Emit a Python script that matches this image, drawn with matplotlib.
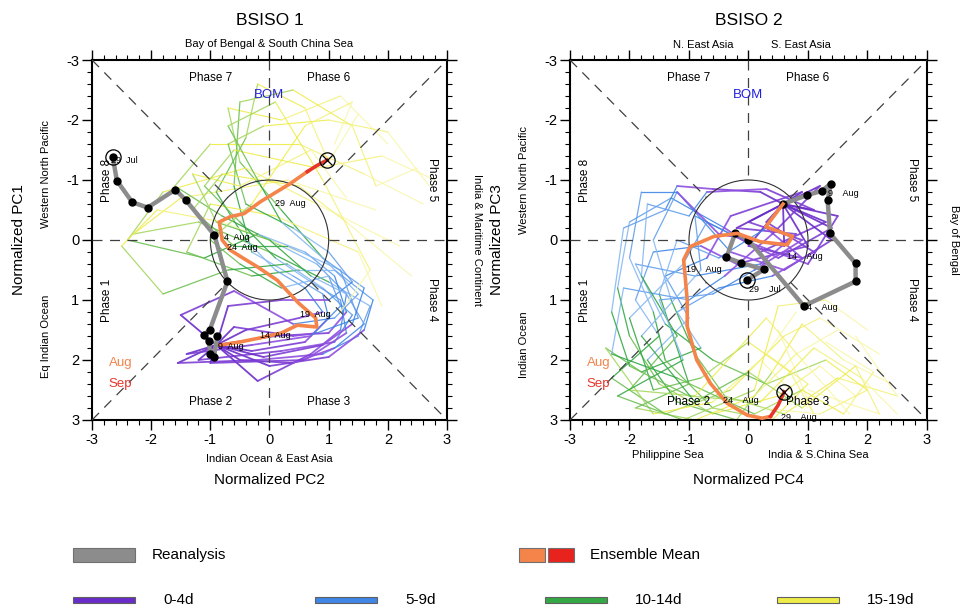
import numpy as np
import matplotlib
matplotlib.use("Agg")
import matplotlib.pyplot as plt
from matplotlib.patches import Circle, Rectangle
from matplotlib.colors import to_rgb

plt.rcParams['font.family'] = ['Liberation Sans', 'DejaVu Sans']
plt.rcParams['axes.unicode_minus'] = False

# ---------------- data ----------------
# BSISO1 : x = PC2, y = PC1 ; BSISO2 : x = PC4, y = PC3  (y axis reversed)
rean1_x = [-2.65, -2.58, -2.32, -2.06, -1.59, -1.41, -0.93, -0.71, -1.01, -1.11, -1.03, -1.00, -0.94, -0.88]
rean1_y = [-1.39, -0.99, -0.63, -0.54, -0.84, -0.66, -0.08, 0.69, 1.50, 1.58, 1.68, 1.90, 1.95, 1.60]

rean2_x = [-0.03, 0.26, -0.13, -0.37, -0.22, 0.00, 0.93, 1.80, 1.80, 1.37, 1.33, 1.38, 1.24, 0.99, 0.58]
rean2_y = [0.67, 0.49, 0.38, 0.29, -0.12, 0.00, 1.10, 0.69, 0.39, -0.11, -0.66, -0.94, -0.82, -0.75, -0.60]

mean1_aug_x = [-0.83, -0.50, -0.15, 0.20, 0.47, 0.80, 0.78, 0.49, 0.30, 0.13, -0.20, -0.45, -0.66, -0.80, -0.85, -0.66, -0.43, -0.15, 0.35, 0.64]
mean1_aug_y = [1.75, 1.70, 1.63, 1.55, 1.42, 1.45, 1.30, 1.05, 0.85, 0.67, 0.45, 0.30, 0.17, 0.00, -0.30, -0.39, -0.44, -0.64, -0.94, -1.14]
mean1_sep_x = [0.64, 0.80, 0.97]
mean1_sep_y = [-1.14, -1.24, -1.33]

mean2_aug_x = [0.58, 0.29, 0.74, 0.65, 0.20, -0.19, -0.58, -0.98, -1.09, -1.03, -1.03, -0.87, -0.64, -0.36, -0.02, 0.23, 0.37]
mean2_aug_y = [-0.60, -0.22, -0.06, 0.08, 0.03, -0.11, -0.06, 0.11, 0.33, 1.00, 1.44, 2.00, 2.39, 2.72, 2.92, 2.97, 2.94]
mean2_sep_x = [0.37, 0.50, 0.60]
mean2_sep_y = [2.94, 2.75, 2.53]

# ensemble members: 13 points each; 0-3 -> 0-4d, 3-6 -> 5-9d, 6-9 -> 10-14d, 9-12 -> 15-19d
members1 = [
    [(-0.9, 1.75), (-1.5, 1.25), (-0.6, 0.85), (0.4, 1.4), (1.1, 1.3), (1.5, 0.9), (0.9, 0.3), (0.2, -0.5), (-0.5, -1.3), (-0.7, -2.2), (0.2, -2.0), (1.2, -2.4), (2.0, -1.6)],
    [(-0.9, 1.75), (-1.55, 2.05), (-0.2, 2.0), (0.9, 1.9), (1.5, 1.6), (1.7, 1.1), (1.0, 0.7), (0.0, 0.2), (-1.2, -0.3), (-2.3, -0.1), (-1.5, -0.7), (0.3, -1.0), (1.8, -0.5)],
    [(-0.9, 1.75), (-0.2, 2.35), (0.7, 1.9), (1.2, 1.5), (1.3, 0.9), (0.8, 0.4), (0.2, 0.1), (-0.8, -0.4), (-1.6, -0.9), (-1.0, -1.6), (0.5, -1.6), (1.6, -1.1), (2.6, -0.6)],
    [(-0.9, 1.75), (0.1, 1.6), (1.0, 1.55), (1.3, 1.2), (1.1, 0.6), (0.6, 0.2), (-0.2, -0.1), (-1.1, 0.3), (-2.4, 0.0), (-1.8, -0.8), (-0.4, -1.2), (0.8, -0.6), (2.2, 0.1)],
    [(-0.9, 1.75), (-0.3, 1.85), (0.6, 1.7), (1.0, 1.3), (0.9, 0.9), (0.4, 0.6), (-0.3, 0.2), (-0.6, -0.9), (-0.5, -2.3), (0.4, -2.5), (1.4, -1.9), (1.8, -0.9), (2.5, -1.2)],
    [(-0.9, 1.75), (0.0, 2.1), (1.0, 1.95), (1.6, 1.5), (1.75, 1.0), (1.1, 0.5), (0.5, 0.5), (-0.3, 0.6), (-1.4, 0.2), (-1.0, -0.6), (0.1, -0.4), (1.5, 0.2), (1.9, 1.1)],
    [(-0.9, 1.75), (-0.4, 1.5), (0.5, 1.3), (0.9, 1.2), (0.6, 0.8), (0.1, 0.5), (-0.4, 0.0), (-0.9, -0.8), (-0.4, -1.7), (-0.2, -2.6), (0.6, -2.2), (1.0, -1.3), (1.5, -2.1)],
    [(-0.9, 1.75), (-1.2, 2.0), (0.2, 1.85), (1.1, 1.7), (1.4, 1.25), (0.9, 0.8), (0.3, 0.4), (-0.7, 0.5), (-1.8, 0.9), (-2.5, 0.1), (-1.9, -0.5), (-0.8, -0.3), (0.5, 0.2)],
    [(-0.9, 1.75), (-0.7, 1.1), (0.2, 1.0), (1.0, 1.0), (1.4, 0.7), (1.0, 0.2), (0.4, -0.2), (-0.4, -0.6), (-0.7, -1.6), (-0.1, -1.9), (1.0, -2.0), (2.0, -1.8), (2.7, -0.9)],
    [(-0.9, 1.75), (-0.5, 2.0), (0.4, 2.05), (1.1, 1.8), (1.6, 1.4), (1.3, 0.9), (0.7, 0.6), (0.0, 0.0), (-0.9, -0.3), (-1.3, -1.1), (-0.5, -0.9), (0.7, -1.5), (1.3, -0.7)],
    [(-0.9, 1.75), (-1.0, 2.05), (0.6, 2.0), (1.3, 1.55), (1.2, 1.0), (0.7, 0.7), (0.1, 0.3), (-0.5, -0.3), (-1.1, -0.9), (-0.6, -1.5), (0.8, -1.2), (1.9, -1.4), (2.8, -1.0)],
    [(-0.9, 1.75), (-0.6, 1.45), (0.4, 1.6), (0.8, 1.55), (1.5, 1.3), (1.2, 0.5), (0.3, 0.1), (-0.6, 0.1), (-1.3, -0.5), (-0.8, -1.1), (0.5, -0.9), (1.3, -0.3), (2.4, 0.6)],
    [(-0.9, 1.75), (-1.4, 1.9), (-0.3, 1.75), (0.7, 1.6), (1.2, 1.1), (1.0, 0.6), (0.2, 0.8), (-0.5, 0.4), (-1.0, 0.0), (-0.3, -0.6), (0.6, -1.9), (1.4, -2.3), (1.1, -1.6)],
    [(-0.9, 1.75), (-0.1, 1.95), (0.9, 1.75), (1.4, 1.4), (1.6, 0.8), (0.9, 0.3), (0.2, -0.3), (-0.2, -1.0), (-0.7, -1.9), (0.1, -2.3), (0.9, -1.0), (1.7, 0.5), (1.2, 1.2)],
]
members2 = [
    [(0.58, -0.6), (1.3, -0.3), (0.2, 0.2), (-0.4, -0.2), (-1.3, -0.7), (-2.0, -0.3), (-2.2, 0.8), (-2.0, 1.6), (-1.5, 2.4), (-0.6, 2.9), (0.5, 2.6), (1.2, 2.1), (1.8, 2.6)],
    [(0.58, -0.6), (1.0, 0.1), (-0.2, 0.4), (-0.8, 0.1), (-1.6, 0.2), (-1.9, 1.0), (-1.5, 1.6), (-2.3, 2.3), (-1.4, 2.9), (-0.3, 2.5), (0.6, 1.6), (1.2, 1.3), (2.2, 1.9)],
    [(0.58, -0.6), (1.4, 0.0), (0.6, 0.5), (-0.3, 0.2), (-1.2, -0.8), (-1.6, 0.0), (-1.3, 1.0), (-0.9, 1.9), (-0.4, 2.6), (0.6, 2.9), (1.5, 2.3), (2.5, 2.6), (1.8, 1.6)],
    [(0.58, -0.6), (0.9, -0.8), (-0.3, -0.4), (-0.7, 0.3), (-1.4, 0.6), (-1.0, 1.3), (-1.7, 2.0), (-1.2, 2.7), (-0.2, 3.0), (0.4, 2.2), (0.9, 1.4), (1.6, 2.0), (2.4, 2.4)],
    [(0.58, -0.6), (0.3, -0.3), (1.1, 0.2), (0.4, 0.6), (-0.5, 0.8), (-1.2, 1.2), (-0.8, 1.8), (-1.8, 2.2), (-2.4, 1.8), (-1.6, 2.9), (-0.6, 2.7), (0.2, 2.0), (1.0, 2.8)],
    [(0.58, -0.6), (-0.2, -0.2), (0.8, -0.1), (0.2, 0.4), (-0.9, 0.6), (-1.9, 0.4), (-1.4, 1.4), (-0.6, 2.0), (0.3, 2.4), (1.3, 2.0), (2.0, 2.5), (1.2, 2.9), (0.2, 2.8)],
    [(0.58, -0.6), (1.5, -0.4), (1.0, 0.4), (-0.1, 0.0), (-0.7, -0.3), (-1.1, 0.4), (-2.0, 1.3), (-1.6, 2.5), (-0.8, 2.3), (0.0, 1.7), (0.7, 2.2), (1.1, 2.9), (0.5, 1.5)],
    [(0.58, -0.6), (0.0, 0.1), (0.9, 0.3), (0.3, -0.2), (-0.5, 0.3), (-1.2, 0.0), (-1.5, 0.9), (-1.0, 2.4), (-1.9, 2.8), (-0.9, 3.0), (0.1, 2.6), (0.8, 1.9), (1.5, 1.5)],
    [(0.58, -0.6), (1.2, -0.9), (0.4, -0.1), (-0.4, 0.6), (-1.0, 1.0), (-2.1, 0.8), (-2.3, 1.9), (-1.2, 2.3), (0.1, 2.9), (0.9, 2.5), (1.6, 2.9), (2.1, 2.2), (1.3, 1.7)],
    [(0.58, -0.6), (0.6, 0.1), (-0.5, -0.1), (-1.2, -0.8), (-1.8, -0.8), (-2.0, 0.3), (-1.6, 1.2), (-1.4, 2.0), (-0.6, 2.8), (0.4, 3.0), (1.0, 2.4), (0.3, 1.9), (0.8, 1.2)],
    [(0.58, -0.6), (0.2, -0.8), (-0.6, -0.85), (-1.2, -0.9), (-1.4, -0.5), (-2.1, -0.2), (-2.3, 1.2), (-2.0, 2.1), (-1.0, 2.6), (0.2, 2.7), (1.1, 1.8), (1.9, 2.3), (2.5, 2.9)],
    [(0.58, -0.6), (1.1, -0.5), (0.3, -0.85), (-0.7, -0.8), (-1.0, -0.4), (-1.7, -0.6), (-1.8, 0.6), (-1.2, 1.6), (-2.0, 2.5), (-0.9, 2.6), (0.3, 1.3), (0.9, 2.0), (1.7, 2.9)],
    [(0.58, -0.6), (1.4, -0.2), (0.5, 0.3), (-0.3, -0.1), (-0.9, -0.4), (-0.8, 0.5), (-1.8, 1.6), (-0.9, 2.7), (0.0, 2.2), (0.9, 2.8), (1.8, 2.1), (2.2, 2.9), (1.0, 2.5)],
    [(0.58, -0.6), (0.0, -0.3), (0.9, 0.0), (0.1, 0.5), (-0.6, 0.9), (-1.5, 1.0), (-1.1, 2.0), (-2.2, 2.6), (-1.1, 3.0), (0.1, 2.5), (0.5, 1.1), (1.3, 1.0), (2.0, 1.5)],
]

lead_labels = ['0-4d', '5-9d', '10-14d', '15-19d']
lead_colors = [('#6a2cc8', '#8f4fe0'), ('#3f86e6', '#86b8f2'), ('#34a844', '#a6d860'), ('#eeec48', '#f9f6a8')]
lead_widths = [1.3, 0.9, 0.9, 0.8]

# text labels along the tracks
rean1_dates = [(-2.45, -1.33, '29  Jul'), (-0.55, -0.04, '4  Aug')]
mean1_dates = [(-0.65, 1.78, '9  Aug'), (0.1, 1.6, '14  Aug'), (0.78, 1.25, '19  Aug'), (-0.45, 0.12, '24  Aug'), (0.35, -0.6, '29  Aug')]
rean2_dates = [(0.28, 0.82, '29    Jul'), (1.25, 1.13, '4    Aug'), (1.6, -0.78, '9    Aug')]
mean2_dates = [(0.95, 0.28, '14    Aug'), (-0.75, 0.5, '19    Aug'), (-0.12, 2.68, '24    Aug'), (0.85, 2.96, '29    Aug')]


def mix(c1, c2, t):
    a, b = np.array(to_rgb(c1)), np.array(to_rgb(c2))
    return tuple(a + (b - a) * t)


def draw_panel(ax, members, rx, ry, max_, may_, msx, msy, rdates, mdates):
    ax.set_xlim(-3, 3)
    ax.set_ylim(3, -3)

    # ensemble members
    for m in members:
        for b in range(4):
            for k in range(3):
                i = b * 3 + k
                c = mix(lead_colors[b][0], lead_colors[b][1], k / 2.0)
                ax.plot([m[i][0], m[i + 1][0]], [m[i][1], m[i + 1][1]], color=c,
                        lw=lead_widths[b], alpha=0.9, zorder=2, solid_capstyle='round')

    # guide lines
    d = np.sqrt(0.5)
    gl = dict(color='#404040', lw=0.9, ls=(0, (8, 6)), zorder=3)
    ax.plot([-3, -1], [0, 0], **gl)
    ax.plot([1, 3], [0, 0], **gl)
    ax.plot([0, 0], [-3, -1], **gl)
    ax.plot([0, 0], [1, 3], **gl)
    ax.plot([-3, -d], [-3, -d], **gl)
    ax.plot([d, 3], [d, 3], **gl)
    ax.plot([-3, -d], [3, d], **gl)
    ax.plot([d, 3], [-d, -3], **gl)
    ax.add_patch(Circle((0, 0), 1, fill=False, ec='#303030', lw=0.8, zorder=3))

    # reanalysis
    ax.plot(rx, ry, color='#8c8c8c', lw=3.2, zorder=4, solid_joinstyle='round')
    ax.plot(rx, ry, 'o', color='black', ms=5, zorder=5)
    ax.plot(rx[0], ry[0], 'o', mfc='none', mec='black', ms=11, mew=0.9, zorder=5)

    # ensemble mean
    ax.plot(max_, may_, color='#f4844a', lw=2.6, zorder=6)
    ax.plot(msx, msy, color='#e8352a', lw=2.6, zorder=6)
    ax.plot(msx[-1], msy[-1], 'o', mfc='none', mec='black', ms=11, mew=0.9, zorder=7)
    ax.plot(msx[-1], msy[-1], 'x', color='black', ms=7, mew=0.9, zorder=7)

    for x, y, t in rdates + mdates:
        ax.text(x, y, t, fontsize=6.5, ha='center', va='center', zorder=8)

    # phase labels
    pk = dict(fontsize=8.5, ha='center', va='center', zorder=8)
    ax.text(-1.0, -2.7, 'Phase 7', **pk)
    ax.text(1.0, -2.7, 'Phase 6', **pk)
    ax.text(-1.0, 2.7, 'Phase 2', **pk)
    ax.text(1.0, 2.7, 'Phase 3', **pk)
    ax.text(-2.75, -1.0, 'Phase 8', rotation=90, **pk)
    ax.text(-2.75, 1.0, 'Phase 1', rotation=90, **pk)
    ax.text(2.75, -1.0, 'Phase 5', rotation=-90, **pk)
    ax.text(2.75, 1.0, 'Phase 4', rotation=-90, **pk)
    ax.text(0, -2.42, 'BOM', color='#2020e0', fontsize=9.5, ha='center', va='center', zorder=8)
    ax.text(-2.72, 2.05, 'Aug', color='#f4844a', fontsize=9.5, ha='left', va='center', zorder=8)
    ax.text(-2.72, 2.4, 'Sep', color='#e8352a', fontsize=9.5, ha='left', va='center', zorder=8)

    # axes style
    ax.set_xticks(np.arange(-3, 4))
    ax.set_yticks(np.arange(-3, 4))
    ax.set_xticks(np.arange(-3, 3.01, 0.2), minor=True)
    ax.set_yticks(np.arange(-3, 3.01, 0.2), minor=True)
    ax.tick_params(which='both', direction='out', top=True, right=True, width=1.0, labelsize=10.5, pad=2)
    ax.tick_params(which='major', length=7)
    ax.tick_params(which='minor', length=3.5, width=0.8)
    for s in ax.spines.values():
        s.set_linewidth(1.5)


fig = plt.figure(figsize=(9.61, 6.16), dpi=100)
ax1 = fig.add_axes([92 / 961, 1 - 420 / 616, 355 / 961, 360 / 616])
ax2 = fig.add_axes([570 / 961, 1 - 420 / 616, 357 / 961, 360 / 616])

draw_panel(ax1, members1, rean1_x, rean1_y, mean1_aug_x, mean1_aug_y, mean1_sep_x, mean1_sep_y, rean1_dates, mean1_dates)
draw_panel(ax2, members2, rean2_x, rean2_y, mean2_aug_x, mean2_aug_y, mean2_sep_x, mean2_sep_y, rean2_dates, mean2_dates)

# titles and region labels
ax1.text(0.5, 1.111, 'BSISO 1', transform=ax1.transAxes, fontsize=12.5, ha='center', va='center')
ax2.text(0.5, 1.111, 'BSISO 2', transform=ax2.transAxes, fontsize=12.5, ha='center', va='center')
ax1.text(0.5, 1.045, 'Bay of Bengal & South China Sea', transform=ax1.transAxes, fontsize=8, ha='center', va='center')
ax2.text(-0.76, -3.25, 'N. East Asia', fontsize=8, ha='center', va='center', clip_on=False)
ax2.text(0.88, -3.25, 'S. East Asia', fontsize=8, ha='center', va='center', clip_on=False)
ax1.text(0.5, -0.107, 'Indian Ocean & East Asia', transform=ax1.transAxes, fontsize=8, ha='center', va='center')
ax2.text(-1.35, 3.58, 'Philippine Sea', fontsize=8, ha='center', va='center', clip_on=False)
ax2.text(1.18, 3.58, 'India & S.China Sea', fontsize=8, ha='center', va='center', clip_on=False)
ax1.text(0.5, -0.167, 'Normalized PC2', transform=ax1.transAxes, fontsize=11, ha='center', va='center')
ax2.text(0.5, -0.167, 'Normalized PC4', transform=ax2.transAxes, fontsize=11, ha='center', va='center')
ax1.text(-0.205, 0.5, 'Normalized PC1', transform=ax1.transAxes, fontsize=11, rotation=90, ha='center', va='center')
ax2.text(-0.205, 0.5, 'Normalized PC3', transform=ax2.transAxes, fontsize=11, rotation=90, ha='center', va='center')
ax1.text(-3.78, -1.1, 'Western North Pacific', fontsize=8, rotation=90, ha='center', va='center', clip_on=False)
ax1.text(-3.78, 1.6, 'Eq Indian Ocean', fontsize=8, rotation=90, ha='center', va='center', clip_on=False)
ax2.text(-3.78, -1.0, 'Western North Pacific', fontsize=8, rotation=90, ha='center', va='center', clip_on=False)
ax2.text(-3.78, 1.75, 'Indian Ocean', fontsize=8, rotation=90, ha='center', va='center', clip_on=False)
ax1.text(1.085, 0.5, 'India & Maritime Continent', transform=ax1.transAxes, fontsize=8, rotation=-90, ha='center', va='center')
ax2.text(1.075, 0.5, 'Bay of Bengal', transform=ax2.transAxes, fontsize=8, rotation=-90, ha='center', va='center')

# legend along the bottom
W, H = 961.0, 616.0


def box(x0, y0, w, h, fc, ec='#555555'):
    fig.add_artist(Rectangle((x0 / W, 1 - (y0 + h) / H), w / W, h / H, fc=fc, ec=ec, lw=0.8,
                             transform=fig.transFigure))


box(73, 548, 62, 14, '#8c8c8c', '#707070')
fig.text(152 / W, 1 - 555 / H, 'Reanalysis', fontsize=11, va='center')
box(519, 548, 26, 14, '#f4844a', '#707070')
box(548, 548, 26, 14, '#e8231e', '#707070')
fig.text(590 / W, 1 - 555 / H, 'Ensemble Mean', fontsize=11, va='center')
legend_x = [73, 315, 545, 777]
for i, lab in enumerate(lead_labels):
    box(legend_x[i], 597, 62, 6, lead_colors[i][0], '#606060')
    fig.text((legend_x[i] + 90) / W, 1 - 600 / H, lab, fontsize=11, va='center')

fig.savefig('out.png', dpi=100)
